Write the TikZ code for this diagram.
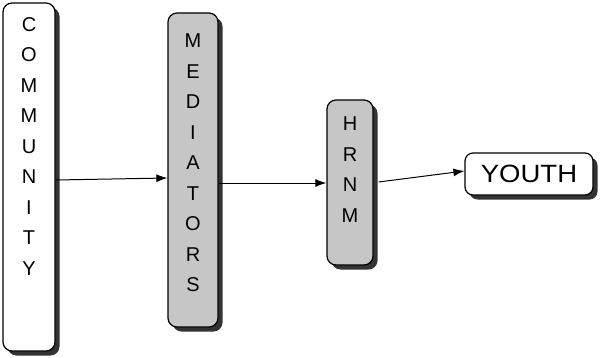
\documentclass[tikz,border=0pt]{standalone}
\usepackage{fontspec}
\setmainfont{Liberation Sans}
\usetikzlibrary{arrows.meta,shadows}
\begin{document}
\begin{tikzpicture}[x=1pt,y=-1pt,
  box/.style={draw=black,line width=1.2pt,rounded corners=9pt,inner sep=0pt,
    drop shadow={shadow xshift=4.5pt,shadow yshift=-4.5pt,fill=black!80,opacity=1}},
  graybox/.style={box,fill=gray!45},
  whitebox/.style={box,fill=white},
  vtext/.style={anchor=north,inner sep=0pt,align=center,font=\fontsize{20}{30.5}\selectfont},
  arr/.style={line width=1pt,-{Latex[length=11pt,width=8pt]}}]
\useasboundingbox (0,0) rectangle (604,358);
\node[whitebox,minimum width=52pt,minimum height=348pt] (community) at (29,177) {};
\node[vtext] (ctext) at (29,17) {C\\O\\M\\M\\U\\N\\I\\T\\Y};
\node[graybox,minimum width=50pt,minimum height=314pt] (mediators) at (193,170) {};
\node[vtext] (mtext) at (193,34) {M\\E\\D\\I\\A\\T\\O\\R\\S};
\node[graybox,minimum width=46pt,minimum height=165pt] (hrnm) at (350,182.5) {};
\node[vtext] (htext) at (350,117) {H\\R\\N\\M};
\node[whitebox,rounded corners=8pt,minimum width=128pt,minimum height=42pt,font=\fontsize{25}{25}\selectfont] (youth) at (529,174) {\scalebox{1.1}[1]{YOUTH}};
\draw[arr] ([yshift=-3pt]community.east) -- ([yshift=-1pt]mediators.west |- community.east);
\draw[arr] (mediators.east |- 0,183) -- (hrnm.west |- 0,183);
\draw[arr] ([xshift=5pt]hrnm.east |- 0,182) -- ([yshift=3pt]youth.west);
\end{tikzpicture}
\end{document}
